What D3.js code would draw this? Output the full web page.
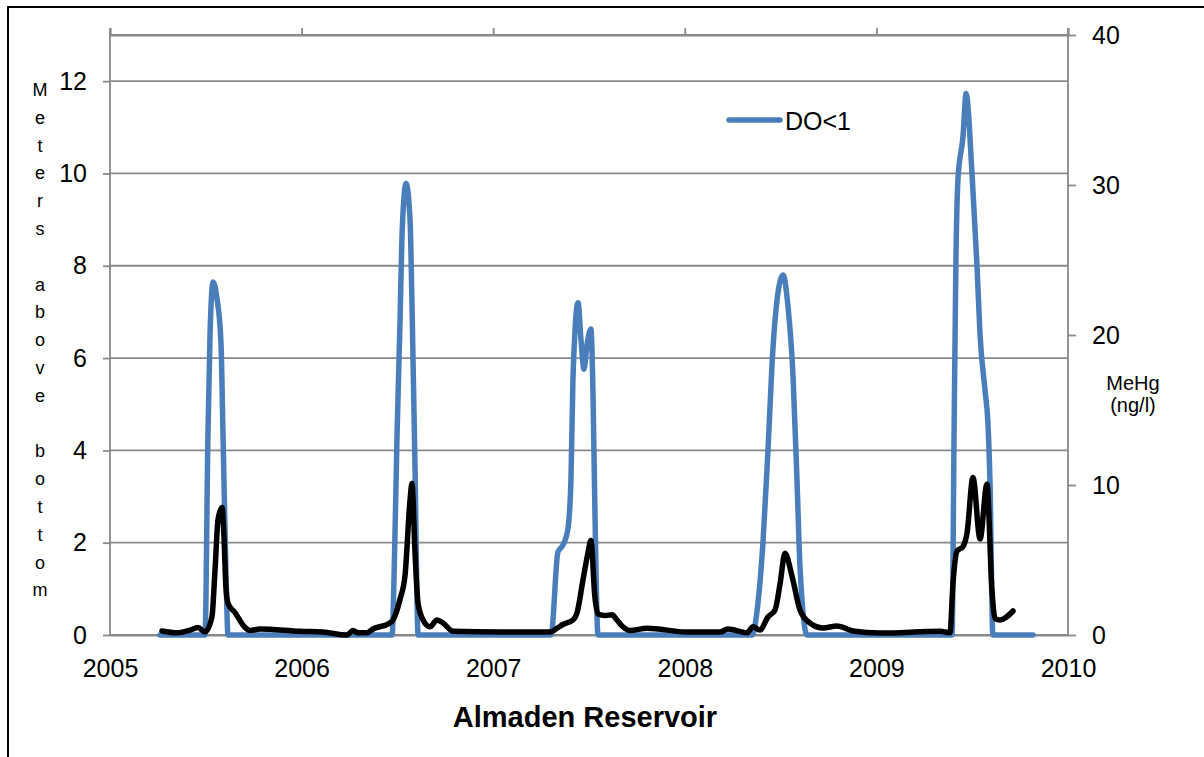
<!DOCTYPE html>
<html>
<head>
<meta charset="utf-8">
<script src="https://cdn.jsdelivr.net/npm/d3@7"></script>
<style>
  body { margin: 0; background: #fff; }
  text { font-family: "Liberation Sans", Arial, sans-serif; fill: #000; }
</style>
</head>
<body>
<div id="chart"></div>
<script>
// DO<1 : meters above bottom (left axis)
var doDates = [2005.261, 2005.496, 2005.511, 2005.522, 2005.538, 2005.558, 2005.579, 2005.590, 2005.605, 2005.616,
  2005.678, 2005.992, 2006.472, 2006.487, 2006.498, 2006.514, 2006.524, 2006.545, 2006.566, 2006.576,
  2006.592, 2006.608, 2006.670, 2007.035, 2007.302, 2007.338, 2007.364, 2007.390, 2007.406, 2007.416,
  2007.427, 2007.443, 2007.458, 2007.474, 2007.490, 2007.510, 2007.521, 2007.531, 2007.547, 2007.610,
  2008.079, 2008.351, 2008.382, 2008.408, 2008.434, 2008.460, 2008.486, 2008.513, 2008.539, 2008.565,
  2008.586, 2008.601, 2008.638, 2008.706, 2009.123, 2009.395, 2009.405, 2009.415, 2009.426, 2009.452,
  2009.468, 2009.499, 2009.525, 2009.541, 2009.567, 2009.582, 2009.593, 2009.608, 2009.645, 2009.817];
var doValues = [0, 0, 4.3, 6.5, 7.65, 7.3, 6.35, 4.3, 1.4, 0,
  0, 0, 0, 2.1, 4.3, 6.85, 8.65, 9.78, 9.0, 7.2,
  3.6, 0, 0, 0, 0, 1.8, 1.95, 2.3, 3.4, 5.5,
  6.6, 7.2, 6.4, 5.76, 6.3, 6.63, 5.2, 2.65, 0, 0,
  0, 0, 0.7, 2.0, 4.0, 6.2, 7.4, 7.8, 7.1, 5.6,
  3.3, 1.5, 0, 0, 0, 0, 4.2, 8.1, 9.9, 10.8,
  11.73, 10.0, 8.0, 6.5, 5.3, 4.6, 3.3, 0, 0, 0];

// MeHg (ng/l) : right axis
var hgDates = [2005.271, 2005.350, 2005.418, 2005.459, 2005.496, 2005.532, 2005.548, 2005.564, 2005.585, 2005.595,
  2005.605, 2005.616, 2005.652, 2005.705, 2005.731, 2005.783, 2005.992, 2006.112, 2006.237, 2006.268,
  2006.294, 2006.341, 2006.373, 2006.461, 2006.477, 2006.514, 2006.540, 2006.566, 2006.576, 2006.592,
  2006.608, 2006.634, 2006.670, 2006.707, 2006.738, 2006.790, 2007.035, 2007.296, 2007.333, 2007.364,
  2007.416, 2007.437, 2007.469, 2007.495, 2007.510, 2007.531, 2007.547, 2007.584, 2007.620, 2007.646,
  2007.677, 2007.714, 2007.803, 2008.011, 2008.184, 2008.225, 2008.325, 2008.356, 2008.392, 2008.434,
  2008.471, 2008.497, 2008.523, 2008.560, 2008.601, 2008.653, 2008.721, 2008.794, 2008.878, 2009.019,
  2009.332, 2009.384, 2009.400, 2009.421, 2009.452, 2009.473, 2009.504, 2009.541, 2009.577, 2009.603,
  2009.619, 2009.645, 2009.713];
var hgValues = [0.27, 0.15, 0.33, 0.5, 0.2, 1.2, 4.3, 7.7, 8.5, 6.5,
  3.2, 2.1, 1.5, 0.5, 0.3, 0.4, 0.25, 0.2, 0.0, 0.3,
  0.15, 0.15, 0.4, 0.8, 1.0, 2.4, 4.0, 9.0, 10.1, 5.5,
  2.1, 1.0, 0.55, 1.0, 0.8, 0.25, 0.2, 0.2, 0.45, 0.7,
  1.0, 1.45, 3.7, 5.5, 6.3, 2.5, 1.4, 1.3, 1.35, 1.0,
  0.55, 0.3, 0.45, 0.2, 0.2, 0.4, 0.15, 0.55, 0.33, 1.2,
  1.67, 3.4, 5.45, 3.9, 1.67, 0.8, 0.47, 0.6, 0.27, 0.13,
  0.25, 0.15, 3.5, 5.6, 5.9, 6.8, 10.5, 6.4, 10.05, 3.0,
  1.1, 1.0, 1.6];

var yearTicks = [2005, 2006, 2007, 2008, 2009, 2010];
var leftTicks = [0, 2, 4, 6, 8, 10, 12];
var rightTicks = [0, 10, 20, 30, 40];
var yLabel = "Meters above bottom";

var svgWidth = 1204;
var svgHeight = 757;
var plot = { left: 110, right: 1068, top: 35, bottom: 635 };
var gridColor = "#898989";

var svg = d3.select("#chart")
  .append("svg")
  .attr("width", svgWidth)
  .attr("height", svgHeight);

// outer frame (cut off at right / bottom like the original)
svg.append("rect")
  .attr("x", 8).attr("y", 7)
  .attr("width", 1220).attr("height", 780)
  .attr("fill", "none")
  .attr("stroke", "#000")
  .attr("stroke-width", 2);

// scales
var xScale = d3.scaleLinear().domain([2005, 2010]).range([plot.left, plot.right]);
var yLeft = d3.scaleLinear().domain([0, 13]).range([plot.bottom, plot.top]);
var yRight = d3.scaleLinear().domain([0, 40]).range([plot.bottom, plot.top]);

// horizontal gridlines
svg.append("g")
  .selectAll("line")
  .data(leftTicks.concat([13]))
  .enter()
  .append("line")
  .attr("x1", plot.left).attr("x2", plot.right)
  .attr("y1", d => yLeft(d)).attr("y2", d => yLeft(d))
  .attr("stroke", gridColor)
  .attr("stroke-width", 1.8);

// left axis
var leftAxis = d3.axisLeft(yLeft).tickValues(leftTicks).tickSize(7).tickPadding(16);
var gl = svg.append("g")
  .attr("transform", `translate(${plot.left},0)`)
  .call(leftAxis);

// right axis
var rightAxis = d3.axisRight(yRight).tickValues(rightTicks).tickSize(8).tickPadding(16);
var gr = svg.append("g")
  .attr("transform", `translate(${plot.right},0)`)
  .call(rightAxis);

// bottom axis (labels only)
var bottomAxis = d3.axisBottom(xScale).tickValues(yearTicks).tickFormat(d3.format("d")).tickSize(0).tickPadding(24);
var gb = svg.append("g")
  .attr("transform", `translate(0,${plot.bottom})`)
  .call(bottomAxis);

// top axis (tick marks only)
var topAxis = d3.axisTop(xScale).tickValues(yearTicks).tickFormat("").tickSize(7);
var gt = svg.append("g")
  .attr("transform", `translate(0,${plot.top})`)
  .call(topAxis);

[gl, gr, gb, gt].forEach(function(g) {
  g.select(".domain").attr("stroke", gridColor).attr("stroke-width", 1.8);
  g.selectAll(".tick line").attr("stroke", gridColor).attr("stroke-width", 1.8);
  g.selectAll(".tick text")
    .attr("font-family", "Liberation Sans, Arial, sans-serif")
    .attr("font-size", 25)
    .attr("fill", "#000");
});
gl.select(".domain").attr("d", `M0,${plot.top - 7}V${plot.bottom}`);
gr.select(".domain").attr("d", `M0,${plot.top - 7}V${plot.bottom}`);

// lines
var doLine = d3.line()
  .x((d, i) => xScale(doDates[i]))
  .y(d => yLeft(d))
  .curve(d3.curveMonotoneX);

var hgLine = d3.line()
  .x((d, i) => xScale(hgDates[i]))
  .y(d => yRight(d))
  .curve(d3.curveMonotoneX);

svg.append("path")
  .datum(doValues)
  .attr("d", doLine)
  .attr("fill", "none")
  .attr("stroke", "#4a7ebb")
  .attr("stroke-width", 5.5)
  .attr("stroke-linejoin", "round")
  .attr("stroke-linecap", "round");

svg.append("path")
  .datum(hgValues)
  .attr("d", hgLine)
  .attr("fill", "none")
  .attr("stroke", "#000")
  .attr("stroke-width", 5.5)
  .attr("stroke-linejoin", "round")
  .attr("stroke-linecap", "round");

// legend
svg.append("line")
  .attr("x1", 729).attr("x2", 780)
  .attr("y1", 120).attr("y2", 120)
  .attr("stroke", "#4a7ebb")
  .attr("stroke-width", 5.5)
  .attr("stroke-linecap", "round");
svg.append("text")
  .attr("x", 785).attr("y", 130)
  .attr("font-size", 25)
  .text("DO<1");

// left axis title, one letter per line
svg.append("g")
  .selectAll("text")
  .data(yLabel.split(""))
  .enter()
  .append("text")
  .attr("x", 40)
  .attr("y", (d, i) => 96 + i * 27.8)
  .attr("text-anchor", "middle")
  .attr("font-size", 18)
  .text(d => d);

// right axis title
svg.append("text")
  .attr("x", 1133).attr("y", 390)
  .attr("text-anchor", "middle")
  .attr("font-size", 20)
  .text("MeHg");
svg.append("text")
  .attr("x", 1133).attr("y", 412)
  .attr("text-anchor", "middle")
  .attr("font-size", 20)
  .text("(ng/l)");

// chart title
svg.append("text")
  .attr("x", 585).attr("y", 727)
  .attr("text-anchor", "middle")
  .attr("font-size", 29)
  .attr("font-weight", "bold")
  .text("Almaden Reservoir");
</script>
</body>
</html>
